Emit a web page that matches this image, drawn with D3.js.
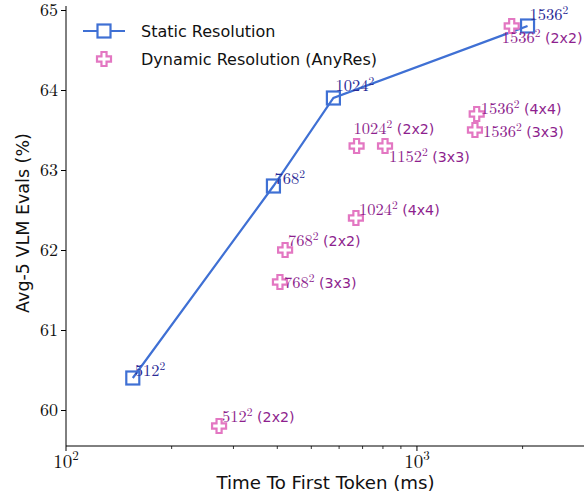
<!DOCTYPE html>
<html>
<head>
<meta charset="utf-8">
<script src="https://cdn.jsdelivr.net/npm/d3@7"></script>
<style>
  body { margin: 0; background: #fff; }
  svg { display: block; }
</style>
</head>
<body>
<div id="chart"></div>
<script>
// Static resolution series
const staticRes = [512, 768, 1024, 1536];
const staticTTFT = [155, 390, 578, 2066];
const staticScore = [60.4, 62.8, 63.9, 64.8];

// Dynamic resolution (AnyRes) series
const dynRes = [512, 768, 768, 1024, 1024, 1152, 1536, 1536, 1536];
const dynGrid = ["2x2", "2x2", "3x3", "2x2", "4x4", "3x3", "2x2", "3x3", "4x4"];
const dynTTFT = [273, 421, 407, 673, 670, 811, 1862, 1463, 1480];
const dynScore = [59.8, 62.0, 61.6, 63.3, 62.4, 63.3, 64.8, 63.5, 63.7];

// label nudges (px) relative to each marker
const staticNudge = [[2, -2], [1, -2], [2, -7], [2, -6]];
const dynNudge = [[3, -4], [3, -4], [4, 6], [-3, -12], [3, -3], [4, 16], [-10, 17], [8, 7], [4, 0]];

const yTicks = [60, 61, 62, 63, 64, 65];
const xMajor = [100, 1000];
const xMinor = [200, 300, 400, 500, 600, 700, 800, 900, 2000, 3000];

const W = 584, H = 501;
const serif = "'Latin Modern Roman', 'CMU Serif', 'Liberation Serif', serif";
const sans = "'DejaVu Sans', sans-serif";
const blue = "#3f70d4", pink = "#e377c2";
const navy = "#2a2a96", purple = "#8e1f8e";

const svg = d3.select("#chart").append("svg").attr("width", W).attr("height", H);

const x = d3.scaleLog().domain([100, 3000]).range([66, 584.4]);
const y = d3.scaleLinear().domain([59.55, 65.05]).range([446, 6]);

// axes
const gx = svg.append("g").attr("transform", "translate(0,446)");
gx.append("line").attr("x1", 66).attr("x2", W).attr("stroke", "#000").attr("stroke-width", 1);
gx.selectAll(".major").data(xMajor).enter().append("line")
  .attr("x1", d => x(d)).attr("x2", d => x(d)).attr("y1", 0).attr("y2", 5)
  .attr("stroke", "#000").attr("stroke-width", 1);
gx.selectAll(".minor").data(xMinor).enter().append("line")
  .attr("x1", d => x(d)).attr("x2", d => x(d)).attr("y1", 0).attr("y2", 3)
  .attr("stroke", "#000").attr("stroke-width", 0.8);
const xl = gx.selectAll(".xlab").data(xMajor).enter().append("text")
  .attr("x", d => x(d)).attr("y", 22).attr("text-anchor", "middle")
  .attr("font-family", serif).attr("font-size", 19).attr("fill", "#111");
xl.append("tspan").text("10");
xl.append("tspan").attr("dy", -8).attr("font-size", 13).text(d => Math.round(Math.log10(d)));

const gy = svg.append("g").attr("transform", "translate(66,0)")
  .call(d3.axisLeft(y).tickValues(yTicks).tickSize(5).tickPadding(3).tickFormat(d3.format("d")));
gy.select(".domain").attr("d", `M0,${y.range()[1]}V${y.range()[0]}`).attr("stroke-width", 1);
gy.selectAll("text").attr("font-family", serif).attr("font-size", 18).attr("fill", "#111");

svg.append("text").attr("x", (213 + 438) / 2).attr("y", 489).attr("text-anchor", "middle")
  .attr("font-family", sans).attr("font-size", 18.2).attr("fill", "#111")
  .text("Time To First Token (ms)");
svg.append("text").attr("transform", "translate(29,223) rotate(-90)").attr("text-anchor", "middle")
  .attr("font-family", sans).attr("font-size", 17.5).attr("fill", "#111")
  .text("Avg-5 VLM Evals (%)");

// markers
function plusPath(s) {
  const a = s / 2, b = s / 5.5;
  return `M${-b},${-a}H${b}V${-b}H${a}V${b}H${b}V${a}H${-b}V${b}H${-a}V${-b}H${-b}Z`;
}
const sq = 13;

// static line
const staticPts = staticTTFT.map((t, i) => [x(t), y(staticScore[i])]);
svg.append("path").attr("d", d3.line()(staticPts))
  .attr("fill", "none").attr("stroke", blue).attr("stroke-width", 2.2);

// dynamic markers
svg.selectAll(".dyn").data(dynTTFT).enter().append("path")
  .attr("transform", (d, i) => `translate(${x(d)},${y(dynScore[i])})`)
  .attr("d", plusPath(14))
  .attr("fill", "#fff").attr("stroke", pink).attr("stroke-width", 2.2).attr("stroke-linejoin", "miter");

// static markers
svg.selectAll(".st").data(staticPts).enter().append("rect")
  .attr("x", d => d[0] - sq / 2).attr("y", d => d[1] - sq / 2)
  .attr("width", sq).attr("height", sq)
  .attr("fill", "none").attr("stroke", blue).attr("stroke-width", 2.2);

// annotation helper
function annotate(px, py, res, extra, color) {
  const t = svg.append("text").attr("x", px).attr("y", py).attr("fill", color)
    .attr("font-family", serif).attr("font-size", 16.5);
  t.append("tspan").text(res);
  t.append("tspan").attr("dy", -6.5).attr("font-size", 11.5).text("2");
  if (extra) {
    t.append("tspan").attr("dy", 6.5).attr("font-family", sans).attr("font-size", 14.2)
      .text(" (" + extra + ")");
  }
}
staticRes.forEach((r, i) => {
  annotate(staticPts[i][0] + staticNudge[i][0], staticPts[i][1] + staticNudge[i][1], r, null, navy);
});
dynRes.forEach((r, i) => {
  annotate(x(dynTTFT[i]) + dynNudge[i][0], y(dynScore[i]) + dynNudge[i][1], r, dynGrid[i], purple);
});

// legend
const lg = svg.append("g");
lg.append("line").attr("x1", 83).attr("x2", 125).attr("y1", 31).attr("y2", 31)
  .attr("stroke", blue).attr("stroke-width", 2.2);
lg.append("rect").attr("x", 104 - sq / 2).attr("y", 31 - sq / 2).attr("width", sq).attr("height", sq)
  .attr("fill", "#fff").attr("stroke", blue).attr("stroke-width", 2.2);
lg.append("path").attr("transform", "translate(104,59)").attr("d", plusPath(14))
  .attr("fill", "#fff").attr("stroke", pink).attr("stroke-width", 2.2);
lg.append("text").attr("x", 141).attr("y", 37).attr("font-family", sans).attr("font-size", 16)
  .attr("fill", "#111").text("Static Resolution");
lg.append("text").attr("x", 141).attr("y", 65).attr("font-family", sans).attr("font-size", 16)
  .attr("fill", "#111").text("Dynamic Resolution (AnyRes)");
</script>
</body>
</html>
